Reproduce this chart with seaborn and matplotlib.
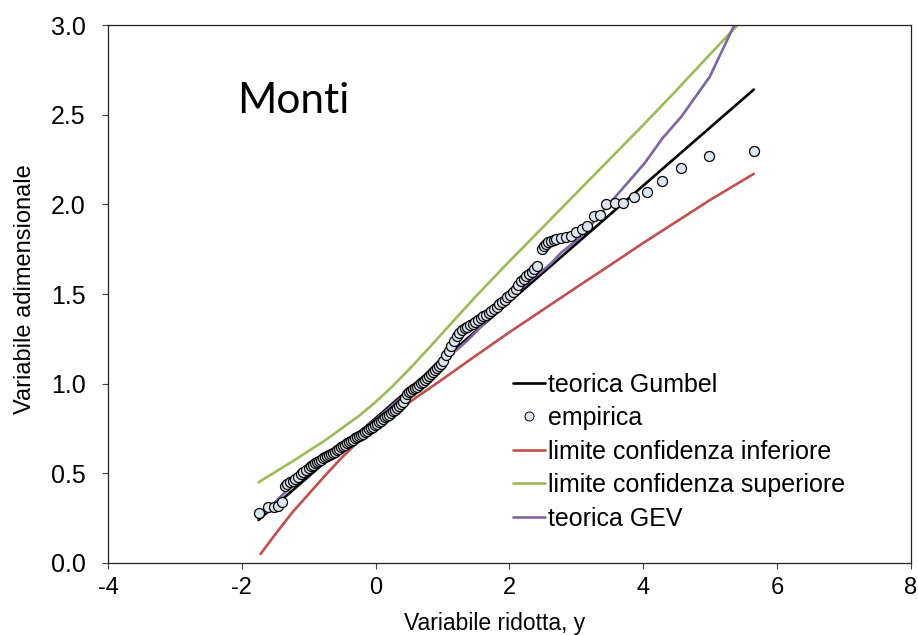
import numpy as np
import pandas as pd
import matplotlib
matplotlib.use("Agg")
import matplotlib.pyplot as plt
from matplotlib.lines import Line2D
from matplotlib import font_manager
import seaborn as sns

# ---------------- data ----------------
gumbel_x = [-1.75, 5.65]
gumbel_y = [0.24, 2.64]

lower_x = [-1.72, -1.5, -1.25, -1.0, -0.75, -0.5, -0.25, 0.0, 0.25, 0.5, 0.75, 1.0,
           1.5, 2.0, 2.5, 3.0, 3.5, 4.0, 4.5, 5.0, 5.65]
lower_y = [0.05, 0.16, 0.28, 0.385, 0.49, 0.59, 0.68, 0.76, 0.83, 0.895, 0.96, 1.025,
           1.157, 1.287, 1.412, 1.537, 1.66, 1.785, 1.905, 2.025, 2.17]

upper_x = [-1.75, -1.25, -0.75, -0.25, 0.0, 0.25, 0.5, 0.75, 1.0, 1.5, 2.0, 2.5,
           3.0, 3.5, 4.0, 4.5, 5.0, 5.41]
upper_y = [0.45, 0.565, 0.685, 0.82, 0.898, 0.985, 1.08, 1.18, 1.283, 1.488, 1.683,
           1.873, 2.063, 2.253, 2.443, 2.638, 2.838, 3.0]

gev_x = [-1.75, -1.42, -1.0, -0.5, 0.0, 0.5, 1.0, 1.37, 1.87, 2.27, 2.62, 2.77, 3.07,
         3.52, 4.02, 4.29, 4.57, 4.99, 5.36]
gev_y = [0.25, 0.37, 0.52, 0.66, 0.80, 0.96, 1.12, 1.24, 1.43, 1.56, 1.67, 1.73, 1.82,
         2.015, 2.23, 2.37, 2.49, 2.71, 3.0]

emp_x = [
    -1.75, -1.61, -1.52, -1.46, -1.40,
    -1.36, -1.32, -1.28, -1.24, -1.20, -1.16, -1.12, -1.08, -1.04, -1.00,
    -0.97, -0.94, -0.91, -0.88, -0.85, -0.82, -0.79, -0.76, -0.73, -0.70,
    -0.67, -0.64, -0.61, -0.58, -0.55, -0.52, -0.49, -0.46, -0.43, -0.40,
    -0.37, -0.34, -0.31, -0.28, -0.25, -0.22, -0.19, -0.16, -0.13, -0.10,
    -0.07, -0.04, -0.01, 0.02, 0.05, 0.08, 0.11, 0.14, 0.17, 0.20,
    0.23, 0.26, 0.29, 0.32, 0.35, 0.38, 0.41, 0.44, 0.47, 0.50,
    0.53, 0.56, 0.59, 0.62, 0.65, 0.68, 0.71, 0.74, 0.77, 0.80,
    0.83, 0.86, 0.89, 0.92, 0.95, 0.98, 1.01,
    1.05, 1.09, 1.13, 1.17, 1.21, 1.25, 1.29, 1.33, 1.37, 1.41,
    1.45, 1.49, 1.53, 1.57, 1.61, 1.65, 1.69, 1.73, 1.77, 1.81,
    1.85, 1.89, 1.93, 1.97, 2.01, 2.05, 2.09, 2.13, 2.17, 2.21,
    2.25, 2.29, 2.33, 2.37, 2.41,
    2.49, 2.52, 2.55, 2.58, 2.62, 2.66, 2.70, 2.77, 2.84, 2.92,
    2.99, 3.08, 3.16, 3.26, 3.35, 3.44, 3.57, 3.70, 3.86, 4.05,
    4.28, 4.56, 4.98, 5.65,
]
emp_y = [
    0.28, 0.31, 0.31, 0.32, 0.34,
    0.430, 0.440, 0.450, 0.460, 0.470, 0.480, 0.495, 0.510, 0.520, 0.530,
    0.540, 0.548, 0.556, 0.563, 0.570, 0.577, 0.585, 0.590, 0.596, 0.602,
    0.608, 0.614, 0.620, 0.628, 0.636, 0.645, 0.652, 0.660, 0.667, 0.673,
    0.680, 0.688, 0.697, 0.705, 0.710, 0.716, 0.722, 0.730, 0.738, 0.745,
    0.752, 0.760, 0.768, 0.776, 0.785, 0.794, 0.803, 0.812, 0.820, 0.828,
    0.836, 0.845, 0.855, 0.865, 0.875, 0.885, 0.895, 0.920, 0.945, 0.952,
    0.960, 0.968, 0.976, 0.984, 0.993, 1.002, 1.012, 1.022, 1.032, 1.043,
    1.054, 1.065, 1.077, 1.089, 1.100, 1.112, 1.125,
    1.160, 1.180, 1.210, 1.240, 1.265, 1.285, 1.300, 1.310, 1.318, 1.326,
    1.335, 1.345, 1.355, 1.365, 1.375, 1.385, 1.395, 1.405, 1.418, 1.430,
    1.442, 1.455, 1.468, 1.482, 1.496, 1.512, 1.530, 1.550, 1.570, 1.585,
    1.600, 1.612, 1.625, 1.638, 1.655,
    1.750, 1.765, 1.780, 1.790, 1.795, 1.800, 1.805, 1.815, 1.820, 1.825,
    1.845, 1.865, 1.880, 1.935, 1.940, 2.000, 2.010, 2.010, 2.040, 2.070,
    2.130, 2.200, 2.270, 2.300,
]

x_ticks = [-4, -2, 0, 2, 4, 6, 8]
y_ticks = [0.0, 0.5, 1.0, 1.5, 2.0, 2.5, 3.0]
label_order = ["teorica Gumbel", "empirica", "limite confidenza inferiore",
               "limite confidenza superiore", "teorica GEV"]

# ---------------- style ----------------
sns.set_theme(style="white")
plt.rcParams["font.family"] = ["Liberation Sans", "DejaVu Sans"]
plt.rcParams["axes.unicode_minus"] = False
plt.rcParams["text.color"] = "black"
plt.rcParams["axes.labelcolor"] = "black"

installed = {f.name for f in font_manager.fontManager.ttflist}
if "Liberation Sans Narrow" in installed:
    narrow = ["Liberation Sans Narrow", "Liberation Sans"]
    xtick_size, xlab_size = 20, 19.5
else:
    narrow = ["Liberation Sans", "DejaVu Sans"]
    xtick_size, xlab_size = 17, 16.5

C_BLACK = "#000000"
C_RED = "#c0504d"
C_GREEN = "#9bbb59"
C_PURPLE = "#8064a2"
C_FACE = "#dce6f2"

fig = plt.figure(figsize=(9.18, 6.35), dpi=100)
ax = fig.add_axes([0.1176, 0.1134, 0.8748, 0.8472])

lw = 1.9
sns.lineplot(x=gumbel_x, y=gumbel_y, color=C_BLACK, lw=lw, sort=False, estimator=None,
             ax=ax, label="teorica Gumbel", zorder=2)
sns.lineplot(x=lower_x, y=lower_y, color=C_RED, lw=lw, sort=False, estimator=None,
             ax=ax, label="limite confidenza inferiore", zorder=2)
sns.lineplot(x=upper_x, y=upper_y, color=C_GREEN, lw=lw, sort=False, estimator=None,
             ax=ax, label="limite confidenza superiore", zorder=2)
sns.lineplot(x=gev_x, y=gev_y, color=C_PURPLE, lw=lw, sort=False, estimator=None,
             ax=ax, label="teorica GEV", zorder=2)
sns.scatterplot(x=emp_x, y=emp_y, s=52, color=C_FACE, edgecolor="black", linewidth=0.9,
                ax=ax, label="empirica", zorder=5)

ax.set_xlim(-4, 8)
ax.set_ylim(0, 3.0)
ax.set_xticks(x_ticks)
ax.set_xticklabels([str(t) for t in x_ticks], fontsize=xtick_size, family=narrow)
ax.set_yticks(y_ticks)
ax.set_yticklabels([f"{t:.1f}" for t in y_ticks], fontsize=18)

for sp in ax.spines.values():
    sp.set_visible(True)
    sp.set_color("#222222")
    sp.set_linewidth(0.9)

ax.tick_params(axis="both", which="major", direction="out", length=4, width=0.8,
               color="#444444", labelcolor="black",
               bottom=True, left=True, top=False, right=False)
ax.tick_params(axis="x", pad=6)
ax.tick_params(axis="y", pad=12)

ax.set_xlabel("Variabile ridotta, y", fontsize=xlab_size, family=narrow, color="black",
              va="top")
ax.xaxis.set_label_coords(0.482, -0.091)
ax.set_ylabel("Variabile adimensionale", fontsize=17, color="black", va="bottom")
ax.yaxis.set_label_coords(-0.089, 0.51)

ax.text(-2.07, 2.51, "Monti", fontsize=30.5, family=["Lato", "DejaVu Sans"],
        color="black", ha="left", va="baseline")

# legend in custom order
handles, labels = ax.get_legend_handles_labels()
hmap = dict(zip(labels, handles))
hmap["empirica"] = Line2D([], [], marker="o", linestyle="none", markersize=6.5,
                          markerfacecolor=C_FACE, markeredgecolor="black",
                          markeredgewidth=0.7)
leg = ax.legend([hmap[l] for l in label_order], label_order, loc="upper left",
                bbox_to_anchor=(0.504, 0.354), frameon=False, fontsize=18,
                handlelength=1.28, handletextpad=0.12, labelspacing=0.38,
                borderaxespad=0, borderpad=0)
for t in leg.get_texts():
    t.set_color("black")

fig.savefig("out.png", dpi=100)
